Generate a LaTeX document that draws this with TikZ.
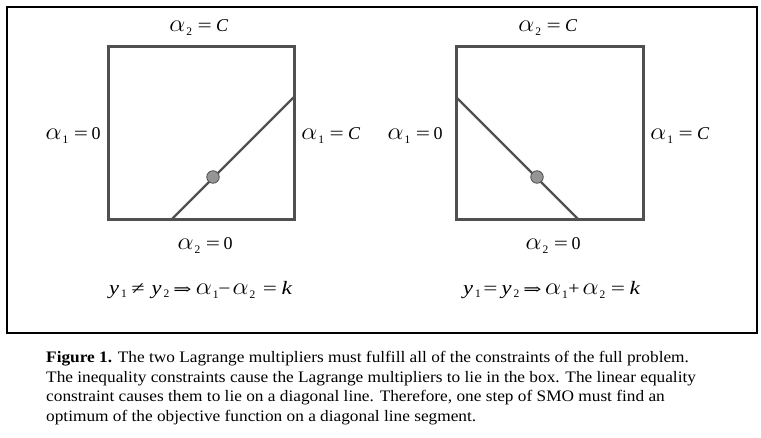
\documentclass[tikz,border=0pt]{standalone}
\usepackage{fontspec}
\setmainfont{Liberation Serif}
\newfontfamily\capfont[FakeStretch=1.08]{Liberation Serif}
\newfontfamily\symf{DejaVu Serif}
\definecolor{boxgray}{HTML}{505050}
\definecolor{dotgray}{HTML}{959595}
% pieces of the formulas, each in a box of fixed width
\newcommand{\gA}{\resizebox{16pt}{10.5pt}{$\alpha$}}
\newcommand{\sub}[1]{\raisebox{-3.3pt}{\fontsize{11.5}{11.5}\selectfont #1}}
\newcommand{\al}[1]{\makebox[17pt][l]{\gA}\makebox[5.5pt][l]{\sub{#1}}}
\newcommand{\yy}[1]{\makebox[12pt][l]{\scalebox{1.25}[1.08]{\textit{y}}}\makebox[5.5pt][l]{\raisebox{-3pt}{\fontsize{11.5}{11.5}\selectfont #1}}}
\newcommand{\Eq}{\makebox[14pt][c]{\scalebox{1.4}[1]{=}}}
\newcommand{\Neq}{\makebox[13pt][c]{\scalebox{1.35}[1]{≠}}}
\newcommand{\Impl}{\makebox[21pt][c]{\symf\fontsize{15}{15}\selectfont\scalebox{1.45}[1]{⇒}}}
\newcommand{\Minus}{\makebox[12pt][c]{\scalebox{1.2}[1]{−}}}
\newcommand{\Plus}{\makebox[13pt][c]{\scalebox{1.1}[1]{+}}}
\newcommand{\Cc}{\makebox[13pt][c]{\textit{C}}}
\newcommand{\Kk}{\makebox[12pt][c]{\scalebox{1.3}[1.05]{\textit{k}}}}
\newcommand{\Zero}{\makebox[9pt][c]{0}}
\newcommand{\g}[1]{\hspace*{#1pt}}
\tikzset{
  frame/.style={draw=black, line width=1.3pt},
  bbox/.style={draw=boxgray, line width=3pt},
  diag/.style={draw=boxgray, line width=2.3pt},
  pt/.style={circle, draw=boxgray, fill=dotgray, line width=0.8pt, minimum size=12.5pt, inner sep=0pt},
  lab/.style={anchor=base, inner sep=0pt, font=\fontsize{18}{18}\selectfont},
  captxt/.style={anchor=base west, inner sep=0pt, font=\capfont\fontsize{16}{16}\selectfont},
}
\begin{document}
\begin{tikzpicture}[x=1pt, y=-1pt]
\useasboundingbox (0,0) rectangle (761,438);
\draw[frame] (7,7) rectangle (757,333);
% left box
\coordinate (L1) at (108,47); \coordinate (L2) at (294,220);
\draw[bbox] (L1) rectangle (L2);
\coordinate (La) at (171,220); \coordinate (Lb) at (294,97);
\draw[diag] (La) -- (Lb);
\node[pt] (Ld) at (213,177) {};
\node[lab] (Lt) at (199,32) {\al{2}\g{6}\Eq\g{4}\Cc};
\node[lab] (Ll) at (73,140) {\al{1}\g{6}\Eq\g{3.5}\Zero};
\node[lab] (Lr) at (331,140) {\al{1}\g{6}\Eq\g{4}\Cc};
\node[lab] (Lbt) at (205,250) {\al{2}\g{6}\Eq\g{3.5}\Zero};
\node[lab] (Le) at (201,295) {\yy{1}\g{5}\Neq\g{7}\yy{2}\g{3}\Impl\g{3}\al{1}\Minus\g{2}\al{2}\g{8}\Eq\g{4}\Kk};
% right box
\coordinate (R1) at (456,47); \coordinate (R2) at (643,220);
\draw[bbox] (R1) rectangle (R2);
\coordinate (Ra) at (456,97); \coordinate (Rb) at (579,220);
\draw[diag] (Ra) -- (Rb);
\node[pt] (Rd) at (537,177) {};
\node[lab] (Rt) at (548,32) {\al{2}\g{6}\Eq\g{4}\Cc};
\node[lab] (Rl) at (415,140) {\al{1}\g{6}\Eq\g{3.5}\Zero};
\node[lab] (Rr) at (680,140) {\al{1}\g{6}\Eq\g{4}\Cc};
\node[lab] (Rbt) at (553,250) {\al{2}\g{6}\Eq\g{3.5}\Zero};
\node[lab] (Re) at (552,295) {\yy{1}\g{3}\Eq\g{4}\yy{2}\g{3}\Impl\g{2}\al{1}\Plus\g{2}\al{2}\g{6}\Eq\g{4}\Kk};
% caption
\node[captxt] (c1) at (46,363) {\textbf{Figure 1.} The two Lagrange multipliers must fulfill all of the constraints of the full problem.};
\node[captxt] (c2) at (46,383) {The inequality constraints cause the Lagrange multipliers to lie in the box. The linear equality};
\node[captxt] (c3) at (46,402) {constraint causes them to lie on a diagonal line. Therefore, one step of SMO must find an};
\node[captxt] (c4) at (46,421) {optimum of the objective function on a diagonal line segment.};
\end{tikzpicture}
\end{document}
